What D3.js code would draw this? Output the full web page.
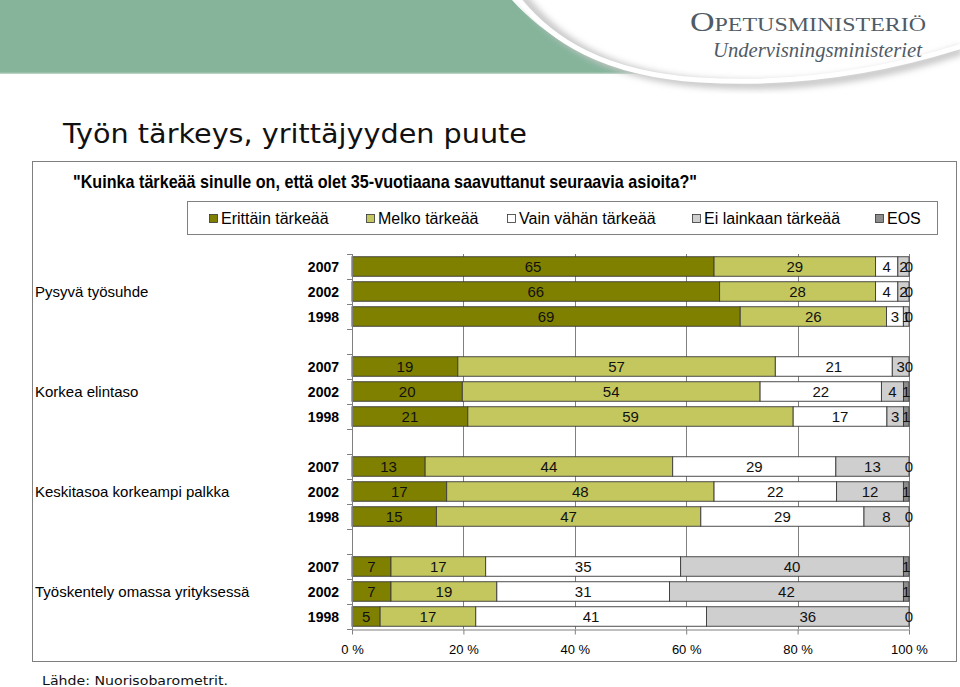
<!DOCTYPE html>
<html>
<head>
<meta charset="utf-8">
<script src="https://cdn.jsdelivr.net/npm/d3@7"></script>
<style>
  html, body { margin: 0; padding: 0; background: #fff; }
  svg { display: block; }
</style>
</head>
<body>
<div id="chart"></div>
<script>
// ---------------- DATA ----------------
const categories = ["Pysyvä työsuhde", "Korkea elintaso", "Keskitasoa korkeampi palkka", "Työskentely omassa yrityksessä"];
const years = ["2007", "2002", "1998"];
const seriesNames = ["Erittäin tärkeää", "Melko tärkeää", "Vain vähän tärkeää", "Ei lainkaan tärkeää", "EOS"];
// values in order: category x year (2007, 2002, 1998)
const erittain   = [65, 66, 69,  19, 20, 21,  13, 17, 15,   7,  7,  5];
const melko      = [29, 28, 26,  57, 54, 59,  44, 48, 47,  17, 19, 17];
const vainVahan  = [ 4,  4,  3,  21, 22, 17,  29, 22, 29,  35, 31, 41];
const eiLainkaan = [ 2,  2,  1,   3,  4,  3,  13, 12,  8,  40, 42, 36];
const eos        = [ 0,  0,  0,   0,  1,  1,   0,  1,  0,   1,  1,  0];
const xTicks = [0, 0.2, 0.4, 0.6, 0.8, 1];

const titleText = "Työn tärkeys, yrittäjyyden puute";
const subtitleText = "\"Kuinka tärkeää sinulle on, että olet 35-vuotiaana saavuttanut seuraavia asioita?\"";
const sourceText = "Lähde: Nuorisobarometrit.";

// ---------------- BUILD TABLE ----------------
const seriesValues = [erittain, melko, vainVahan, eiLainkaan, eos];
const rows = [];
categories.forEach((c, ci) => {
  years.forEach((yr, yi) => {
    const r = { key: c + "|" + yr, cat: c, year: yr };
    seriesNames.forEach((s, si) => { r[s] = seriesValues[si][ci * 3 + yi]; });
    rows.push(r);
  });
});
const rowKeys = [];
categories.forEach((c, ci) => {
  years.forEach(yr => rowKeys.push(c + "|" + yr));
  if (ci < categories.length - 1) rowKeys.push("gap" + ci);
});

const colors = ["#808000", "#c4c75e", "#ffffff", "#cfcfcf", "#8c8c8c"];
const color = d3.scaleOrdinal().domain(seriesNames).range(colors);

// ---------------- SVG ----------------
const W = 960, H = 687;
const svg = d3.select("#chart").append("svg").attr("width", W).attr("height", H)
  .style("font-family", "Arial, 'Liberation Sans', sans-serif");

// Header decoration
const defs = svg.append("defs");
defs.append("filter").attr("id", "blur").append("feGaussianBlur").attr("stdDeviation", 3);
svg.append("rect").attr("x", 0).attr("y", 0).attr("width", W).attr("height", 100).attr("fill", "#fff");
svg.append("path")
  .attr("d", "M0,0 H512 C545,36 588,63 648,73 H0 Z")
  .attr("fill", "#85b49b");
svg.append("path")
  .attr("d", "M0,73 H648")
  .attr("stroke", "#9fc2ae").attr("stroke-width", 1.5).attr("fill", "none");
svg.append("path")
  .attr("d", "M522,-4 C556,42 610,76 705,83 C800,90 885,76 962,50")
  .attr("stroke", "#c8c8c8").attr("stroke-width", 9).attr("fill", "none").attr("filter", "url(#blur)");
svg.append("path")
  .attr("d", "M516,-4 C550,40 604,74 700,80 C795,86 880,72 962,46")
  .attr("stroke", "#ffffff").attr("stroke-width", 5).attr("fill", "none");
svg.append("path")
  .attr("d", "M524,-4 C570,50 650,-10 962,-4 V40 C880,68 795,80 700,76 C620,70 560,40 524,-4 Z")
  .attr("fill", "#ffffff").attr("opacity", 0);

svg.append("text").attr("x", 690).attr("y", 31)
  .attr("font-family", "'Liberation Serif', 'DejaVu Serif', serif")
  .attr("font-size", 27).attr("fill", "#4f5b66")
  .style("font-variant", "small-caps")
  .attr("textLength", 236).attr("lengthAdjust", "spacingAndGlyphs")
  .text("Opetusministeriö");
svg.append("text").attr("x", 713).attr("y", 57)
  .attr("font-family", "'Liberation Serif', 'DejaVu Serif', serif")
  .attr("font-style", "italic")
  .attr("font-size", 22).attr("fill", "#4f5b66")
  .attr("textLength", 209).attr("lengthAdjust", "spacingAndGlyphs")
  .text("Undervisningsministeriet");

// Title
svg.append("text").attr("x", 63).attr("y", 143)
  .attr("font-family", "'DejaVu Sans', Verdana, sans-serif")
  .attr("font-size", 26).attr("fill", "#111")
  .attr("textLength", 464).attr("lengthAdjust", "spacingAndGlyphs")
  .text(titleText);

// Frame
svg.append("rect").attr("x", 32.5).attr("y", 161.5).attr("width", 924).attr("height", 500)
  .attr("fill", "#fff").attr("stroke", "#7f7f7f").attr("stroke-width", 1);

// Subtitle
svg.append("text").attr("x", 73).attr("y", 188)
  .attr("font-size", 19).attr("font-weight", "bold").attr("fill", "#000")
  .attr("textLength", 624).attr("lengthAdjust", "spacingAndGlyphs")
  .text(subtitleText);

// Legend
const legend = svg.append("g");
legend.append("rect").attr("x", 187.5).attr("y", 201.5).attr("width", 750).attr("height", 33)
  .attr("fill", "#fff").attr("stroke", "#808080");
const legendX = [209, 366, 507, 692, 875];
seriesNames.forEach((s, i) => {
  legend.append("rect").attr("x", legendX[i] + 0.5).attr("y", 214.5).attr("width", 8).attr("height", 8)
    .attr("fill", color(s)).attr("stroke", "#333").attr("stroke-width", 0.8);
  legend.append("text").attr("x", legendX[i] + 12).attr("y", 224)
    .attr("font-size", 16).attr("fill", "#000").text(s);
});

// Scales
const x = d3.scaleLinear().domain([0, 1]).range([352, 909]);
const y = d3.scaleBand().domain(rowKeys).range([254, 629]).paddingInner(0.22).paddingOuter(0.11);

// Gridlines
svg.append("g").selectAll("line").data(xTicks.filter(t => t > 0)).join("line")
  .attr("x1", d => Math.round(x(d)) + 0.5).attr("x2", d => Math.round(x(d)) + 0.5)
  .attr("y1", 254).attr("y2", 629)
  .attr("stroke", "#808080").attr("stroke-width", 1);

// Stacks
const stack = d3.stack().keys(seriesNames).offset(d3.stackOffsetExpand);
const stacked = stack(rows);

const gBars = svg.append("g");
stacked.forEach(layer => {
  gBars.append("g").selectAll("rect").data(layer).join("rect")
    .attr("x", d => x(d[0]))
    .attr("y", d => y(d.data.key))
    .attr("width", d => Math.max(0, x(d[1]) - x(d[0])))
    .attr("height", y.bandwidth())
    .attr("fill", color(layer.key))
    .attr("stroke", "#3a3a3a").attr("stroke-width", 0.9);
});
const gLab = svg.append("g");
stacked.forEach(layer => {
  gLab.append("g").selectAll("text").data(layer).join("text")
    .attr("x", d => (x(d[0]) + x(d[1])) / 2)
    .attr("y", d => y(d.data.key) + y.bandwidth() / 2)
    .attr("dy", "0.36em")
    .attr("text-anchor", "middle")
    .attr("font-size", 15).attr("fill", "#111")
    .text(d => d.data[layer.key]);
});

// Y axis (line with ticks at row boundaries)
const yAxisG = svg.append("g");
yAxisG.append("line").attr("x1", 352.5).attr("x2", 352.5).attr("y1", 254).attr("y2", 629)
  .attr("stroke", "#808080");
const bounds = rowKeys.map(k => y(k) - (y.step() - y.bandwidth()) / 2);
bounds.push(y.range()[1]);
yAxisG.selectAll("line.tk").data(bounds).join("line").attr("class", "tk")
  .attr("x1", 347).attr("x2", 352.5)
  .attr("y1", d => Math.round(d) + 0.5).attr("y2", d => Math.round(d) + 0.5)
  .attr("stroke", "#808080");

// Year labels
svg.append("g").selectAll("text").data(rows).join("text")
  .attr("x", 339).attr("y", d => y(d.key) + y.bandwidth() / 2).attr("dy", "0.36em")
  .attr("text-anchor", "end").attr("font-size", 14).attr("font-weight", "bold").attr("fill", "#000")
  .text(d => d.year);

// Category labels
svg.append("g").selectAll("text").data(categories).join("text")
  .attr("x", 35).attr("y", c => y(c + "|" + years[1]) + y.bandwidth() / 2).attr("dy", "0.36em")
  .attr("font-size", 15).attr("fill", "#000")
  .text(c => c);

// X axis
const xAxis = d3.axisBottom(x).tickValues(xTicks).tickFormat(d => Math.round(d * 100) + " %").tickSize(5).tickSizeOuter(0);
const xg = svg.append("g").attr("transform", "translate(0,629.5)").call(xAxis);
xg.select(".domain").attr("stroke", "#808080");
xg.selectAll(".tick line").attr("stroke", "#808080");
xg.selectAll(".tick text").attr("font-size", 13).attr("font-family", "Arial, 'Liberation Sans', sans-serif")
  .attr("fill", "#000").attr("y", 15);

// Source
svg.append("text").attr("x", 42).attr("y", 685)
  .attr("font-family", "'DejaVu Sans', Verdana, sans-serif")
  .attr("font-size", 13).attr("fill", "#111")
  .attr("textLength", 186).attr("lengthAdjust", "spacingAndGlyphs")
  .text(sourceText);
</script>
</body>
</html>
